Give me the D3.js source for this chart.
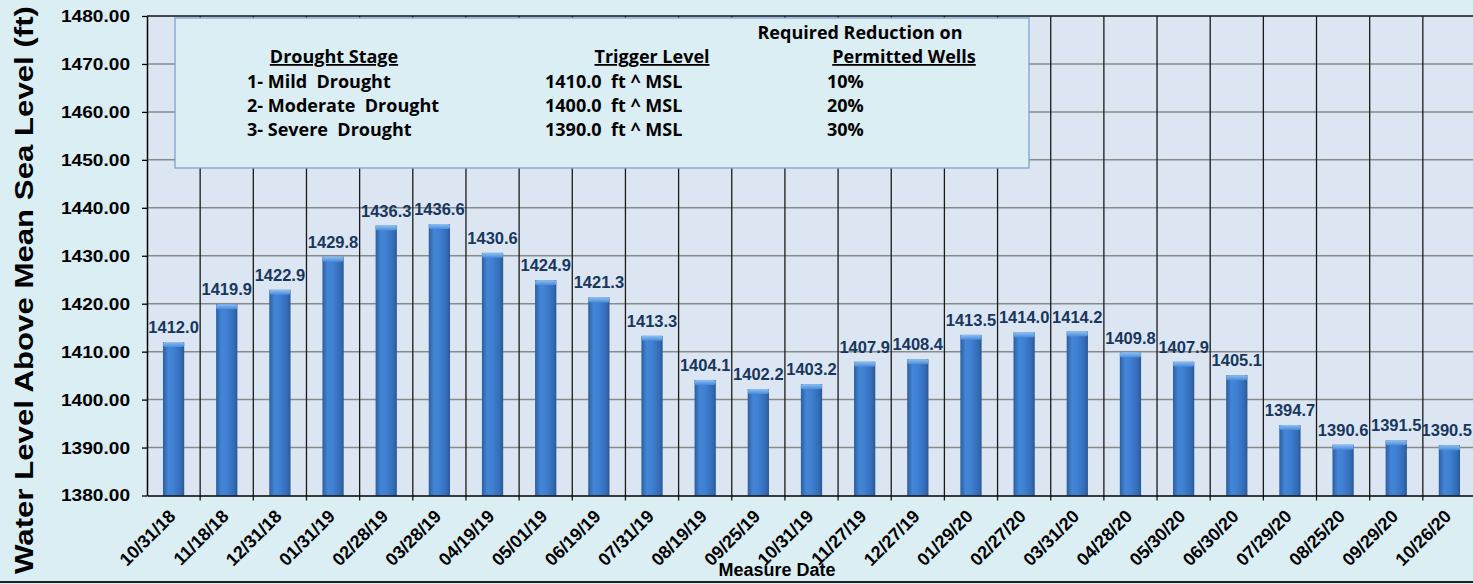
<!DOCTYPE html>
<html>
<head>
<meta charset="utf-8">
<script src="https://cdn.jsdelivr.net/npm/d3@7"></script>
<style>
  html, body { margin: 0; padding: 0; background: #dbeef4; }
  svg { display: block; }
</style>
</head>
<body>
<div id="chart"></div>
<script>
// measure dates and water levels
const dates = ["10/31/18", "11/18/18", "12/31/18", "01/31/19", "02/28/19", "03/28/19", "04/19/19",
  "05/01/19", "06/19/19", "07/31/19", "08/19/19", "09/25/19", "10/31/19", "11/27/19", "12/27/19",
  "01/29/20", "02/27/20", "03/31/20", "04/28/20", "05/30/20", "06/30/20", "07/29/20", "08/25/20",
  "09/29/20", "10/26/20"];
const levels = [1412.0, 1419.9, 1422.9, 1429.8, 1436.3, 1436.6, 1430.6, 1424.9, 1421.3, 1413.3,
  1404.1, 1402.2, 1403.2, 1407.9, 1408.4, 1413.5, 1414.0, 1414.2, 1409.8, 1407.9, 1405.1,
  1394.7, 1390.6, 1391.5, 1390.5];
const yTicks = [1380, 1390, 1400, 1410, 1420, 1430, 1440, 1450, 1460, 1470, 1480];

// drought table
const stages = ["1- Mild  Drought", "2- Moderate  Drought", "3- Severe  Drought"];
const triggers = ["1410.0  ft ^ MSL", "1400.0  ft ^ MSL", "1390.0  ft ^ MSL"];
const reductions = ["10%", "20%", "30%"];

const width = 1473, height = 584;
const plotLeft = 147, plotTop = 16, plotBottom = 495.5;
const band = 53.16;

const svg = d3.select("#chart").append("svg")
  .attr("width", width)
  .attr("height", height);

svg.append("rect").attr("width", width).attr("height", height).attr("fill", "#dbeef4");

const x = d3.scaleBand()
  .domain(dates)
  .range([plotLeft, plotLeft + band * dates.length]);

const y = d3.scaleLinear()
  .domain([1380, 1480])
  .range([plotBottom, plotTop]);

// plot background
svg.append("rect")
  .attr("x", plotLeft).attr("y", plotTop)
  .attr("width", width - plotLeft).attr("height", plotBottom - plotTop)
  .attr("fill", "#dce6f2");

// bar gradient (cylinder look)
let defs = svg.append("defs");
let grad = defs.append("linearGradient").attr("id", "barGrad")
  .attr("x1", 0).attr("x2", 1).attr("y1", 0).attr("y2", 0);
grad.append("stop").attr("offset", "0%").attr("stop-color", "#2d5e9f");
grad.append("stop").attr("offset", "25%").attr("stop-color", "#4385d6");
grad.append("stop").attr("offset", "50%").attr("stop-color", "#3f80d2");
grad.append("stop").attr("offset", "85%").attr("stop-color", "#336bb6");
grad.append("stop").attr("offset", "100%").attr("stop-color", "#2a5796");

let capGrad = defs.append("linearGradient").attr("id", "capGrad")
  .attr("x1", 0).attr("x2", 0).attr("y1", 0).attr("y2", 1);
capGrad.append("stop").attr("offset", "0%").attr("stop-color", "#8cc0f2");
capGrad.append("stop").attr("offset", "100%").attr("stop-color", "#4a8ad8");

// horizontal gridlines
svg.append("g")
  .selectAll("line")
  .data(yTicks.slice(1, -1))
  .join("line")
  .attr("x1", plotLeft).attr("x2", width)
  .attr("y1", d => y(d)).attr("y2", d => y(d))
  .attr("stroke", "#8a8a8a")
  .attr("stroke-width", 1.5);

// top border of plot
svg.append("line")
  .attr("x1", plotLeft).attr("x2", width)
  .attr("y1", y(1480)).attr("y2", y(1480))
  .attr("stroke", "#111").attr("stroke-width", 1.5);

// vertical gridlines at category boundaries (with ticks below the axis)
svg.append("g")
  .selectAll("line")
  .data(dates.slice(1))
  .join("line")
  .attr("x1", d => x(d)).attr("x2", d => x(d))
  .attr("y1", plotTop).attr("y2", plotBottom + 5)
  .attr("stroke", "#1a1a1a")
  .attr("stroke-width", 1.3);

// bars
const barW = band * 0.4;
let bars = svg.append("g").selectAll("g")
  .data(dates)
  .join("g");

bars.append("rect")
  .attr("x", (d) => x(d) + band / 2 - barW / 2)
  .attr("y", (d, i) => y(levels[i]))
  .attr("width", barW)
  .attr("height", (d, i) => plotBottom - y(levels[i]))
  .attr("fill", "url(#barGrad)");

bars.append("rect")
  .attr("x", (d) => x(d) + band / 2 - barW / 2)
  .attr("y", (d, i) => y(levels[i]))
  .attr("width", barW)
  .attr("height", 5)
  .attr("rx", 2)
  .attr("fill", "url(#capGrad)");

// value labels
svg.append("g")
  .selectAll("text")
  .data(dates)
  .join("text")
  .attr("x", d => x(d) + band / 2)
  .attr("y", (d, i) => y(levels[i]) - 9)
  .attr("text-anchor", "middle")
  .attr("font-family", "Liberation Sans, Arial, sans-serif")
  .attr("font-weight", "bold")
  .attr("font-size", 16.5)
  .attr("fill", "#17375e")
  .text((d, i) => levels[i].toFixed(1))
  .each(function () {
    // keep the label inside the picture
    let b = this.getBBox();
    if (b.x + b.width > width - 1) {
      d3.select(this).attr("x", +d3.select(this).attr("x") - (b.x + b.width - width + 1));
    }
  });

// y axis
let yAxis = svg.append("g")
  .attr("transform", `translate(${plotLeft},0)`)
  .call(d3.axisLeft(y).tickValues(yTicks).tickFormat(d3.format(".2f")).tickSize(5).tickSizeOuter(0));
yAxis.select(".domain").attr("stroke", "#000").attr("stroke-width", 1.5);
yAxis.selectAll(".tick line").attr("stroke", "#000").attr("stroke-width", 1.3);
yAxis.selectAll(".tick text")
  .attr("x", -17)
  .attr("font-family", "Liberation Sans, Arial, sans-serif")
  .attr("font-weight", "bold")
  .attr("font-size", 17)
  .attr("fill", "#000")
  .attr("textLength", 69)
  .attr("lengthAdjust", "spacingAndGlyphs");

// x axis
let xAxis = svg.append("g")
  .attr("transform", `translate(0,${plotBottom})`)
  .call(d3.axisBottom(x).tickSize(0).tickSizeOuter(0));
xAxis.select(".domain").attr("stroke", "#000").attr("stroke-width", 1.5);
xAxis.selectAll(".tick text")
  .attr("text-anchor", "end")
  .attr("transform", "translate(3,22) rotate(-45)")
  .attr("dy", 0)
  .attr("y", 0)
  .attr("font-family", "Liberation Sans, Arial, sans-serif")
  .attr("font-weight", "bold")
  .attr("font-size", 18)
  .attr("fill", "#000");

// axis titles
svg.append("text")
  .attr("x", 777).attr("y", 576)
  .attr("text-anchor", "middle")
  .attr("font-family", "Liberation Sans, Arial, sans-serif")
  .attr("font-weight", "bold")
  .attr("font-size", 18)
  .text("Measure Date");

svg.append("text")
  .attr("transform", "translate(33,290) rotate(-90)")
  .attr("text-anchor", "middle")
  .attr("font-family", "Liberation Sans, Arial, sans-serif")
  .attr("font-weight", "bold")
  .attr("font-size", 25)
  .attr("textLength", 568)
  .attr("lengthAdjust", "spacingAndGlyphs")
  .text("Water Level Above Mean Sea Level (ft)");

// bottom border
svg.append("line")
  .attr("x1", 0).attr("x2", width)
  .attr("y1", 582).attr("y2", 582)
  .attr("stroke", "#222").attr("stroke-width", 2);

// drought stage table
let legend = svg.append("g")
  .attr("font-family", "'Open Sans', Lato, sans-serif")
  .attr("font-weight", "bold")
  .attr("font-size", 18)
  .attr("fill", "#000");

legend.append("rect")
  .attr("x", 175).attr("y", 18)
  .attr("width", 854).attr("height", 150)
  .attr("fill", "#dbeef4")
  .attr("stroke", "#7ea3d2")
  .attr("stroke-width", 1.3);

legend.append("text").attr("x", 860).attr("y", 39).attr("text-anchor", "middle").text("Required Reduction on");

let heads = [
  { t: "Drought Stage", x: 334 },
  { t: "Trigger Level", x: 652 },
  { t: "Permitted Wells", x: 904 }
];
legend.selectAll(".head")
  .data(heads)
  .join("text")
  .attr("class", "head")
  .attr("x", d => d.x).attr("y", 63)
  .attr("text-anchor", "middle")
  .attr("text-decoration", "underline")
  .text(d => d.t);

legend.selectAll(".stage").data(stages).join("text").attr("class", "stage")
  .attr("x", 247).attr("y", (d, i) => 88 + i * 24).attr("xml:space", "preserve").text(d => d);
legend.selectAll(".trig").data(triggers).join("text").attr("class", "trig")
  .attr("x", 545).attr("y", (d, i) => 88 + i * 24).attr("xml:space", "preserve").text(d => d);
legend.selectAll(".red").data(reductions).join("text").attr("class", "red")
  .attr("x", 827).attr("y", (d, i) => 88 + i * 24).text(d => d);
</script>
</body>
</html>
